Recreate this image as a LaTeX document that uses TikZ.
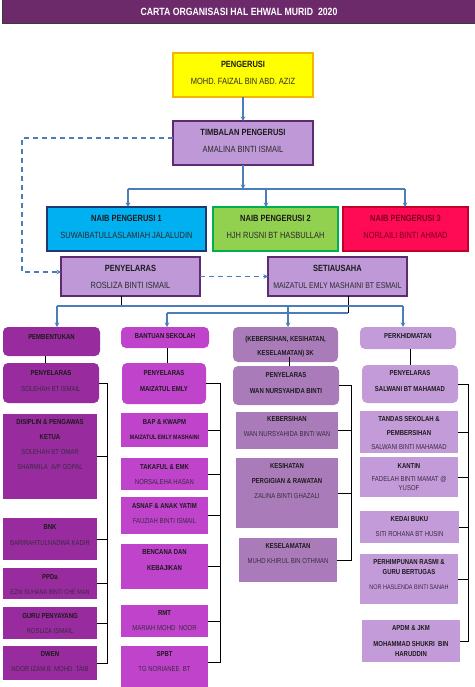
\documentclass[tikz,border=0pt]{standalone}
\usepackage{fontspec}
\setmainfont{Liberation Sans}[FakeStretch=0.83]
\usetikzlibrary{arrows.meta,calc}
\definecolor{titlebg}{HTML}{6C2A6B}
\definecolor{titlebd}{HTML}{3B3B3B}
\definecolor{yel}{HTML}{FFFF00}
\definecolor{yelbd}{HTML}{F4B400}
\definecolor{mid}{HTML}{BF98D8}
\definecolor{midbd}{HTML}{5C2B70}
\definecolor{nba}{HTML}{00B0F0}
\definecolor{nbabd}{HTML}{1F3A6E}
\definecolor{nbb}{HTML}{92D050}
\definecolor{nbbbd}{HTML}{00B050}
\definecolor{nbc}{HTML}{FF0A54}
\definecolor{nbcbd}{HTML}{C0002A}
\definecolor{nbctx}{HTML}{7A0020}
\definecolor{ca}{HTML}{982C9E}
\definecolor{cb}{HTML}{C043CC}
\definecolor{cc}{HTML}{A97CB9}
\definecolor{cd}{HTML}{C49BD9}
\definecolor{lnblue}{HTML}{4A7DBA}
\definecolor{hdc}{HTML}{1A1A1A}
\definecolor{nmc}{HTML}{3A2A40}
\definecolor{topnm}{HTML}{2A2A2A}
\newcommand\hd[1]{{\bfseries\color{hdc}#1}}
\newcommand\mybox[6][]{\node[bxbase,#1,anchor=north west,minimum width={(#5-#3)*1pt},minimum height={(#6-#4)*1pt}] (#2) at (#3,#4) {};}
\newcommand\mytext[5][]{\node[txt,#1] (#2) at (#3,#4) {#5};}
\tikzset{
  bxbase/.style={rectangle,inner sep=0pt,outer sep=0pt},
  topbox/.style={line width=1.5pt},
  rbox/.style={rounded corners=5pt},
  txt/.style={anchor=north,align=center,inner sep=0pt,outer sep=0pt,text=nmc,font=\fontsize{7.2}{15}\selectfont},
  ttxt/.style={txt,text=topnm,font=\fontsize{9}{17}\selectfont},
  blueline/.style={draw=lnblue,line width=1.4pt},
  arr/.style={blueline,-{Stealth[length=4.5pt,width=4.5pt]}},
  dashline/.style={draw=lnblue,line width=1.4pt,dash pattern=on 5pt off 4pt},
  blk/.style={draw=black,line width=1pt}
}
\begin{document}
\begin{tikzpicture}[x=1pt,y=-1pt]
\useasboundingbox (0,0) rectangle (474,687);
% title
\node[bxbase,fill=titlebg,draw=titlebd,line width=1pt,anchor=north west,minimum width=474pt,minimum height=25pt,text=white,font=\bfseries\fontsize{10.5}{12}\selectfont] (bar) at (2,-1) {CARTA ORGANISASI HAL EHWAL MURID~ 2020};
% top boxes
\mybox[topbox,fill=yel,draw=yelbd]{peng}{173}{53}{313}{97}
\mytext[ttxt]{tpeng}{243}{60.8}{\hd{PENGERUSI}\\MOHD. FAIZAL BIN ABD. AZIZ}
\mybox[topbox,fill=mid,draw=midbd]{timb}{173}{121}{313}{165}
\mytext[ttxt]{ttimb}{243}{128.8}{\hd{TIMBALAN PENGERUSI}\\AMALINA BINTI ISMAIL}
\mybox[topbox,fill=nba,draw=nbabd]{nba}{47}{207}{206}{251}
\mytext[ttxt]{tnba}{126.5}{214.8}{\hd{NAIB PENGERUSI 1}\\SUWAIBATULLASLAMIAH JALALUDIN}
\mybox[topbox,fill=nbb,draw=nbbbd]{nbb}{213}{207}{338}{251}
\mytext[ttxt]{tnbb}{275.5}{214.8}{\hd{NAIB PENGERUSI 2}\\HJH RUSNI BT HASBULLAH}
\mybox[topbox,fill=nbc,draw=nbcbd]{nbc}{343}{207}{468}{251}
\mytext[ttxt,text=nbctx]{tnbc}{405.5}{214.8}{{\bfseries NAIB PENGERUSI 3}\\NORLAILI BINTI AHMAD}
\mybox[topbox,fill=mid,draw=midbd]{peny}{61}{257}{200}{296}
\mytext[ttxt]{tpeny}{130.5}{264.8}{\hd{PENYELARAS}\\ROSLIZA BINTI ISMAIL}
\mybox[topbox,fill=mid,draw=midbd]{seti}{268}{257}{407}{296}
\mytext[ttxt]{tseti}{337.5}{264.8}{\hd{SETIAUSAHA}\\{\fontsize{8.4}{17}\selectfont MAIZATUL EMLY MASHAINI BT ESMAIL}}
% connectors top
\draw[arr] (peng) -- (timb);
\coordinate (j0) at (243,189);
\coordinate (ja) at (128,189);
\coordinate (jb) at (266,189);
\coordinate (jc) at (405,189);
\draw[arr] (timb.south) -- (j0);
\draw[blueline] (ja) -- (jc);
\draw[arr] (ja) -- (ja |- nba.north);
\draw[arr] (jb) -- (jb |- nbb.north);
\draw[arr] (jc) -- (jc |- nbc.north);
\coordinate (d1) at (22,138);
\coordinate (d2) at (22,272);
\draw[dashline,-{Stealth[length=4.5pt,width=4.5pt]}] (timb.west |- d1) -- (d1) -- (d2) -- (peny.west |- d2);
\draw[dashline,-{Stealth[length=4.5pt,width=4.5pt]}] (peny.east) -- (seti.west);
% column headers
\mybox[rbox,fill=ca]{pemb}{3}{327}{100}{356}
\mytext{tpemb}{51.5}{334.4}{\hd{PEMBENTUKAN}}
\mybox[rbox,fill=cb]{bant}{121}{327}{209}{348}
\mytext{tbant}{165}{333.4}{\hd{BANTUAN SEKOLAH}}
\mybox[rbox,fill=cc]{kkk}{233}{327}{338}{362}
\mytext{tkkk}{285.5}{336.4}{\hd{(KEBERSIHAN, KESIHATAN,}\\[-1pt]\hd{KESELAMATAN) 3K}}
\mybox[rbox,fill=cd]{perk}{360}{327}{456}{349}
\mytext{tperk}{408}{333.4}{\hd{PERKHIDMATAN}}
% distribution lines
\coordinate (k1) at (121,306);
\coordinate (k2) at (348,313);
\draw[blk] (k1 |- peny.south) -- (k1);
\draw[blk] (k2 |- seti.south) -- (k2);
\coordinate (u1) at (57,306);
\coordinate (u2) at (403,306);
\coordinate (u3) at (288,306);
\coordinate (l1) at (167,313);
\draw[blueline] (u1) -- (u2);
\draw[blueline] (l1) -- (k2);
\draw[arr] (u1) -- (u1 |- pemb.north);
\draw[arr] (u2) -- (u2 |- perk.north);
\draw[arr] (u3) -- (u3 |- kkk.north);
\draw[arr] (l1) -- (l1 |- bant.north);
% coordinators
\mybox[rbox,fill=ca]{pa}{3}{363}{99}{403}
\mytext{tpa}{51}{370.4}{\hd{PENYELARAS}\\[1pt]SOLEHAH BT ISMAIL}
\mybox[rbox,fill=cb]{pb}{122}{363}{206}{404}
\mytext{tpb}{164}{370.4}{\hd{PENYELARAS}\\[1pt]\hd{MAIZATUL EMLY}}
\mybox[rbox,fill=cc]{pc}{233}{366}{339}{405}
\mytext{tpc}{286}{372.4}{\hd{PENYELARAS}\\[1pt]\hd{WAN NURSYAHIDA BINTI}}
\mybox[rbox,fill=cd]{pd}{362}{365}{458}{403}
\mytext{tpd}{410}{370.4}{\hd{PENYELARAS}\\[1pt]\hd{SALWANI BT MAHAMAD}}
\draw[blk] ([xshift=-6.5pt]pemb.south) -- ([xshift=-6.5pt]pemb.south |- pa.north);
\draw[blk] ([xshift=2pt]bant.south) -- ([xshift=2pt]bant.south |- pb.north);
\draw[blk] ([xshift=3.5pt,yshift=5pt]kkk.south) -- ([xshift=3.5pt]kkk.south |- pc.north);
\draw[blk] ([xshift=2pt]perk.south) -- ([xshift=2pt]perk.south |- pd.north);
% column 1
\mybox[fill=ca]{dis}{3}{414}{97}{499}
\mytext{tdis}{50}{419.4}{\hd{DISIPLIN \& PENGAWAS}\\\hd{KETUA}\\SOLEHAH BT OMAR\\SHARMILA~ A/P GOPAL}
\mybox[fill=ca]{bnk}{3}{518}{97}{560}
\mytext{tbnk}{50}{524.4}{\hd{BNK}\\[1pt]BARIRAHTULNADWA KADIR}
\mybox[fill=ca]{ppda}{3}{568}{97}{599}
\mytext{tppda}{50}{574.4}{\hd{PPDa}\\{\fontsize{6.6}{15}\selectfont EZNI SUHANA BINTI CHE MAN}}
\mybox[fill=ca]{guru}{3}{607}{97}{639}
\mytext{tguru}{50}{613.4}{\hd{GURU PENYAYANG}\\ROSLIZA ISMAIL}
\mybox[fill=ca]{dwen}{3}{646}{97}{680}
\mytext{tdwen}{50}{651.4}{\hd{DWEN}\\NOOR IZAM B~ MOHD~ TAIB}
\coordinate (ba) at (107,0);
\draw[blk] (pa.east) -| (ba |- dwen.east) -- (dwen.east);
\foreach \n in {dis,bnk,ppda,guru} \draw[blk] (\n.east) -- (\n.east -| ba);
% column 2
\mybox[fill=cb]{bap}{121}{413}{208}{447}
\mytext{tbap}{164.5}{419.4}{\hd{BAP \& KWAPM}\\{\fontsize{6.3}{15}\selectfont\hd{MAIZATUL EMLY MASHAINI}}}
\mybox[fill=cb]{tak}{121}{458}{208}{490}
\mytext{ttak}{164.5}{464.4}{\hd{TAKAFUL \& EMK}\\NORSALEHA HASAN}
\mybox[fill=cb]{asn}{121}{497}{208}{534}
\mytext{tasn}{164.5}{503.4}{\hd{ASNAF \& ANAK YATIM}\\FAUZIAH BINTI ISMAIL}
\mybox[fill=cb]{ben}{121}{544}{208}{589}
\mytext{tben}{164.5}{549.4}{\hd{BENCANA DAN}\\[1pt]\hd{KEBAJIKAN}}
\mybox[fill=cb]{rmt}{121}{605}{208}{637}
\mytext{trmt}{164.5}{610.4}{\hd{RMT}\\MARIAH MOHD~ NOOR}
\mybox[fill=cb]{spbt}{121}{646}{208}{690}
\mytext{tspbt}{164.5}{651.4}{\hd{SPBT}\\TG NORIANEE~ BT}
\coordinate (bb) at (220,0);
\coordinate (sp) at ([yshift=6pt]spbt.east);
\draw[blk] (pb.east) -| (bb |- sp) -- (sp);
\foreach \n in {bap,tak,asn,ben,rmt} \draw[blk] (\n.east) -- (\n.east -| bb);
% column 3
\mybox[fill=cc]{keb}{236}{412}{338}{449}
\mytext{tkeb}{287}{416.4}{\hd{KEBERSIHAN}\\WAN NURSYAHIDA BINTI WAN}
\mybox[fill=cc]{kes}{236}{458}{338}{528}
\mytext{tkes}{287}{463.4}{\hd{KESIHATAN}\\\hd{PERGIGIAN \& RAWATAN}\\ZALINA BINTI GHAZALI}
\mybox[fill=cc]{ksl}{239}{538}{337}{582}
\mytext{tksl}{288}{543.4}{\hd{KESELAMATAN}\\MUHD KHIRUL BIN OTHMAN}
\coordinate (bc) at (351,0);
\draw[blk] (pc.east) -| (bc |- ksl.east) -- (ksl.east);
\foreach \n in {keb,kes} \draw[blk] (\n.east) -- (\n.east -| bc);
% column 4
\mybox[fill=cd]{tan}{360}{411}{458}{453}
\mytext{ttan}{409}{416.4}{\hd{TANDAS SEKOLAH \&}\\[-1pt]\hd{PEMBERSIHAN}\\[-1pt]SALWANI BINTI MAHAMAD}
\mybox[fill=cd]{kan}{360}{457}{458}{497}
\mytext{tkan}{409}{463.4}{\hd{KANTIN}\\[-2pt]FADELAH BINTI MAMAT @\\[-6pt]YUSOF}
\mybox[fill=cd]{ked}{360}{511}{459}{543}
\mytext{tked}{409.5}{516.4}{\hd{KEDAI BUKU}\\SITI ROHANA BT HUSIN}
\mybox[fill=cd]{per}{360}{554}{458}{604}
\mytext{tper}{409}{559.4}{\hd{PERHIMPUNAN RASMI \&}\\[-5pt]\hd{GURU BERTUGAS}\\{\fontsize{6.6}{15}\selectfont NOR HASLENDA BINTI SANAH}}
\mybox[fill=cd]{apd}{362}{620}{460}{662}
\mytext{tapd}{411}{625.4}{\hd{APDM \& JKM}\\[1pt]\hd{MOHAMMAD SHUKRI~ BIN}\\[-5pt]\hd{HARUDDIN}}
\coordinate (bd) at (468,0);
\draw[blk] (pd.east) -| (bd |- apd.east) -- (apd.east);
\foreach \n in {tan,kan,ked,per} \draw[blk] (\n.east) -- (\n.east -| bd);
\end{tikzpicture}
\end{document}
